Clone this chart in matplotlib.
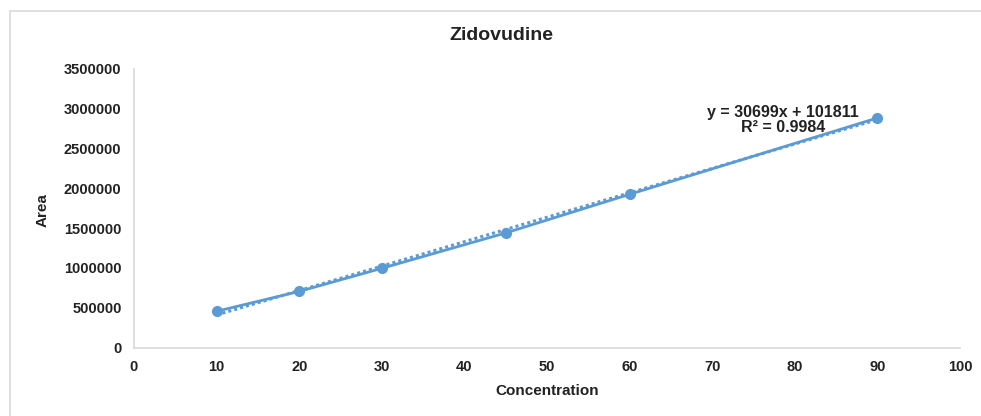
import numpy as np
import matplotlib
matplotlib.use("Agg")
import matplotlib.pyplot as plt
from matplotlib.patches import Rectangle

plt.rcParams['font.family'] = ['Liberation Sans', 'DejaVu Sans']

# --- datos ---
concentracion = [10, 20, 30, 45, 60, 90]
area = [455000, 705000, 995000, 1440000, 1925000, 2885000]
pendiente = 30699
intercepto = 101811
r2 = 0.9984
x_ticks = list(range(0, 101, 10))
y_ticks = list(range(0, 3500001, 500000))

azul = "#5B9BD5"
gris = "#D9D9D9"

fig = plt.figure(figsize=(9.81, 4.16), dpi=100)
ax = fig.add_axes([134 / 981, 1 - 347.5 / 416, (960 - 134) / 981, (347.5 - 69) / 416])

# borde del area del grafico
fig.patches.append(Rectangle((10 / 981, -0.1), 1.2, 1 - 11 / 416 + 0.1,
                             transform=fig.transFigure, fill=False,
                             edgecolor=gris, linewidth=1.2))

# serie y linea de tendencia
xt = np.array([min(concentracion), max(concentracion)])
ax.plot(xt, pendiente * xt + intercepto, color=azul, linestyle=(0, (1, 1)), linewidth=2.2)
ax.plot(concentracion, area, color=azul, linewidth=2, marker='o', markersize=7)

ax.set_xlim(0, 100)
ax.set_ylim(0, 3500000)
ax.set_xticks(x_ticks)
ax.set_yticks(y_ticks)
ax.set_xticklabels([str(t) for t in x_ticks], fontsize=10.5, fontweight='bold', color='#222222')
ax.set_yticklabels([str(t) for t in y_ticks], fontsize=10.5, fontweight='bold', color='#222222')
ax.tick_params(length=0, pad=9)
for s in ['top', 'right']:
    ax.spines[s].set_visible(False)
for s in ['left', 'bottom']:
    ax.spines[s].set_color(gris)
    ax.spines[s].set_linewidth(1.2)

fig.text(501 / 981, 1 - 36 / 416, "Zidovudine", ha='center', va='center',
         fontsize=14, fontweight='bold', color='#222222')
fig.text(547 / 981, 1 - 391 / 416, "Concentration", ha='center', va='center',
         fontsize=11, fontweight='bold', color='#222222')
fig.text(43 / 981, 1 - 210 / 416, "Area", ha='center', va='center', rotation=90,
         fontsize=11, fontweight='bold', color='#222222')

ax.text(78.6, 2860000, f"y = {pendiente}x + {intercepto}\nR² = {r2}",
        ha='center', va='center', multialignment='center', linespacing=1.05,
        fontsize=11.5, fontweight='bold', color='#222222')

fig.savefig("out.png", dpi=100)
